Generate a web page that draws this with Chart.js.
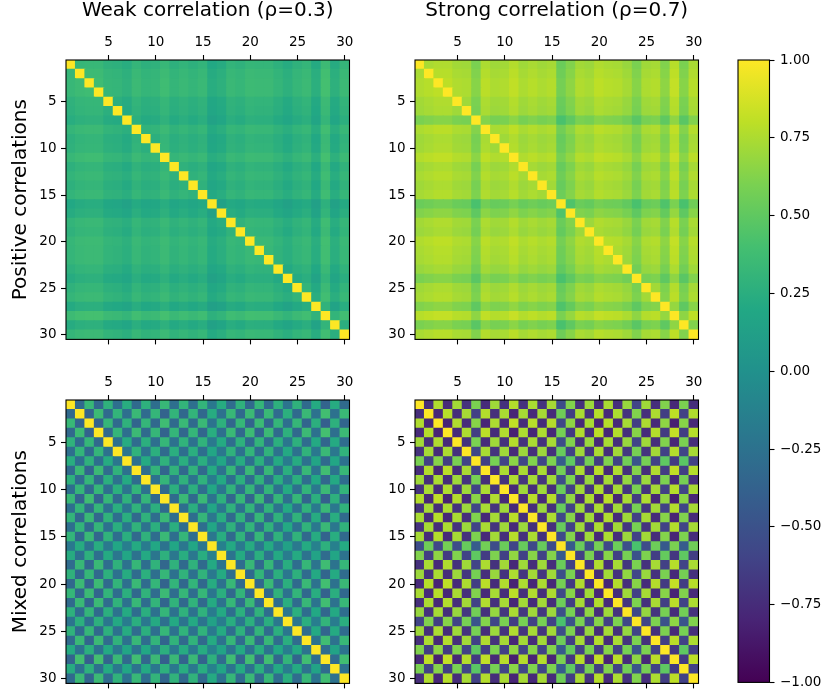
<!DOCTYPE html>
<html>
<head>
<meta charset="utf-8">
<script src="https://cdn.jsdelivr.net/npm/chart.js@4.4.1/dist/chart.umd.min.js"></script>
<style>
html, body { margin: 0; padding: 0; background: #fff; }
#wrap { position: relative; width: 824px; height: 696px; overflow: hidden; }
canvas { position: absolute; }
</style>
</head>
<body>
<div id="wrap">
  <canvas id="tl" width="370" height="352" style="left:0px;top:0px"></canvas>
  <canvas id="tr" width="340" height="352" style="left:370px;top:0px"></canvas>
  <canvas id="bl" width="370" height="344" style="left:0px;top:352px"></canvas>
  <canvas id="br" width="340" height="344" style="left:370px;top:352px"></canvas>
  <canvas id="cb" width="114" height="696" style="left:710px;top:0px"></canvas>
</div>
<script>
// ---------- data (correlation x 100, lower triangle: rows 2..30, columns 1..i-1) ----------
const nVars = 30;
const diagonalValue = 1;
const axisTicks = [5, 10, 15, 20, 25, 30];
const colorbarTicks = [-1, -0.75, -0.5, -0.25, 0, 0.25, 0.5, 0.75, 1];
const colorRange = [-1, 1];
const columnTitles = ['Weak correlation (ρ=0.3)', 'Strong correlation (ρ=0.7)'];
const rowTitles = ['Positive correlations', 'Mixed correlations'];

const weakPositive = [
[32],
[33,36],
[33,36,37],
[28,31,32,32],
[27,30,31,31,26],
[24,27,28,28,23,22],
[31,34,35,35,30,29,26],
[27,30,31,31,26,25,22,29],
[28,31,32,32,27,26,23,30,26],
[33,36,37,37,32,31,28,35,31,32],
[27,30,31,31,26,25,22,29,25,26,31],
[30,33,34,34,29,28,25,32,28,29,34,28],
[27,30,31,31,26,25,22,29,25,26,31,25,28],
[30,33,34,34,29,28,25,32,28,29,34,28,31,28],
[20,23,24,24,19,18,15,22,18,19,24,18,21,18,21],
[23,26,27,27,22,21,18,25,21,22,27,21,24,21,24,14],
[30,33,34,34,29,28,25,32,28,29,34,28,31,28,31,21,24],
[28,31,32,32,27,26,23,30,26,27,32,26,29,26,29,19,22,29],
[32,35,36,36,31,30,27,34,30,31,36,30,33,30,33,23,26,33,31],
[31,34,35,35,30,29,26,33,29,30,35,29,32,29,32,22,25,32,30,34],
[31,34,35,35,30,29,26,33,29,30,35,29,32,29,32,22,25,32,30,34,33],
[27,30,31,31,26,25,22,29,25,26,31,25,28,25,28,18,21,28,26,30,29,29],
[23,26,27,27,22,21,18,25,21,22,27,21,24,21,24,14,17,24,22,26,25,25,21],
[28,31,32,32,27,26,23,30,26,27,32,26,29,26,29,19,22,29,27,31,30,30,26,22],
[31,34,35,35,30,29,26,33,29,30,35,29,32,29,32,22,25,32,30,34,33,33,29,25,30],
[22,25,26,26,21,20,17,24,20,21,26,20,23,20,23,13,16,23,21,25,24,24,20,16,21,24],
[36,39,40,40,35,34,31,38,34,35,40,34,37,34,37,27,30,37,35,39,38,38,34,30,35,38,29],
[23,26,27,27,22,21,18,25,21,22,27,21,24,21,24,14,17,24,22,26,25,25,21,17,22,25,16,30],
[31,34,35,35,30,29,26,33,29,30,35,29,32,29,32,22,25,32,30,34,33,33,29,25,30,33,24,38,25]
];

const strongPositive = [
[74],
[76,78],
[76,78,80],
[72,74,76,76],
[71,73,75,75,71],
[60,62,64,64,60,59],
[75,77,79,79,75,74,63],
[71,73,75,75,71,70,59,74],
[72,74,76,76,72,71,60,75,71],
[77,79,81,81,77,76,65,80,76,77],
[71,73,75,75,71,70,59,74,70,71,76],
[74,76,78,78,74,73,62,77,73,74,79,73],
[71,73,75,75,71,70,59,74,70,71,76,70,73],
[73,75,77,77,73,72,61,76,72,73,78,72,75,72],
[54,56,58,58,54,53,42,57,53,54,59,53,56,53,55],
[62,64,66,66,62,61,50,65,61,62,67,61,64,61,63,44],
[72,74,76,76,72,71,60,75,71,72,77,71,74,71,73,54,62],
[70,72,74,74,70,69,58,73,69,70,75,69,72,69,71,52,60,70],
[76,78,80,80,76,75,64,79,75,76,81,75,78,75,77,58,66,76,74],
[74,76,78,78,74,73,62,77,73,74,79,73,76,73,75,56,64,74,72,78],
[73,75,77,77,73,72,61,76,72,73,78,72,75,72,74,55,63,73,71,77,75],
[69,71,73,73,69,68,57,72,68,69,74,68,71,68,70,51,59,69,67,73,71,70],
[60,62,64,64,60,59,48,63,59,60,65,59,62,59,61,42,50,60,58,64,62,61,57],
[71,73,75,75,71,70,59,74,70,71,76,70,73,70,72,53,61,71,69,75,73,72,68,59],
[73,75,77,77,73,72,61,76,72,73,78,72,75,72,74,55,63,73,71,77,75,74,70,61,72],
[62,64,66,66,62,61,50,65,61,62,67,61,64,61,63,44,52,62,60,66,64,63,59,50,61,63],
[78,80,82,82,78,77,66,81,77,78,83,77,80,77,79,60,68,78,76,82,80,79,75,66,77,79,68],
[60,62,64,64,60,59,48,63,59,60,65,59,62,59,61,42,50,60,58,64,62,61,57,48,59,61,50,66],
[74,76,78,78,74,73,62,77,73,74,79,73,76,73,75,56,64,74,72,78,76,75,71,62,73,75,64,80,62]
];

const weakMixed = [
[-32],
[33,-36],
[-33,36,-37],
[28,-31,32,-32],
[-27,30,-31,31,-26],
[24,-27,28,-28,23,-22],
[-31,34,-35,35,-30,29,-26],
[27,-30,31,-31,26,-25,22,-29],
[-28,31,-32,32,-27,26,-23,30,-26],
[33,-36,37,-37,32,-31,28,-35,31,-32],
[-27,30,-31,31,-26,25,-22,29,-25,26,-31],
[30,-33,34,-34,29,-28,25,-32,28,-29,34,-28],
[-27,30,-31,31,-26,25,-22,29,-25,26,-31,25,-28],
[30,-33,34,-34,29,-28,25,-32,28,-29,34,-28,31,-28],
[-20,23,-24,24,-19,18,-15,22,-18,19,-24,18,-21,18,-21],
[23,-26,27,-27,22,-21,18,-25,21,-22,27,-21,24,-21,24,-14],
[-30,33,-34,34,-29,28,-25,32,-28,29,-34,28,-31,28,-31,21,-24],
[28,-31,32,-32,27,-26,23,-30,26,-27,32,-26,29,-26,29,-19,22,-29],
[-32,35,-36,36,-31,30,-27,34,-30,31,-36,30,-33,30,-33,23,-26,33,-31],
[31,-34,35,-35,30,-29,26,-33,29,-30,35,-29,32,-29,32,-22,25,-32,30,-34],
[-31,34,-35,35,-30,29,-26,33,-29,30,-35,29,-32,29,-32,22,-25,32,-30,34,-33],
[27,-30,31,-31,26,-25,22,-29,25,-26,31,-25,28,-25,28,-18,21,-28,26,-30,29,-29],
[-23,26,-27,27,-22,21,-18,25,-21,22,-27,21,-24,21,-24,14,-17,24,-22,26,-25,25,-21],
[28,-31,32,-32,27,-26,23,-30,26,-27,32,-26,29,-26,29,-19,22,-29,27,-31,30,-30,26,-22],
[-31,34,-35,35,-30,29,-26,33,-29,30,-35,29,-32,29,-32,22,-25,32,-30,34,-33,33,-29,25,-30],
[22,-25,26,-26,21,-20,17,-24,20,-21,26,-20,23,-20,23,-13,16,-23,21,-25,24,-24,20,-16,21,-24],
[-36,39,-40,40,-35,34,-31,38,-34,35,-40,34,-37,34,-37,27,-30,37,-35,39,-38,38,-34,30,-35,38,-29],
[23,-26,27,-27,22,-21,18,-25,21,-22,27,-21,24,-21,24,-14,17,-24,22,-26,25,-25,21,-17,22,-25,16,-30],
[-31,34,-35,35,-30,29,-26,33,-29,30,-35,29,-32,29,-32,22,-25,32,-30,34,-33,33,-29,25,-30,33,-24,38,-25]
];

const strongMixed = [
[-74],
[76,-78],
[-76,78,-80],
[72,-74,76,-76],
[-71,73,-75,75,-71],
[60,-62,64,-64,60,-59],
[-75,77,-79,79,-75,74,-63],
[71,-73,75,-75,71,-70,59,-74],
[-72,74,-76,76,-72,71,-60,75,-71],
[77,-79,81,-81,77,-76,65,-80,76,-77],
[-71,73,-75,75,-71,70,-59,74,-70,71,-76],
[74,-76,78,-78,74,-73,62,-77,73,-74,79,-73],
[-71,73,-75,75,-71,70,-59,74,-70,71,-76,70,-73],
[73,-75,77,-77,73,-72,61,-76,72,-73,78,-72,75,-72],
[-54,56,-58,58,-54,53,-42,57,-53,54,-59,53,-56,53,-55],
[62,-64,66,-66,62,-61,50,-65,61,-62,67,-61,64,-61,63,-44],
[-72,74,-76,76,-72,71,-60,75,-71,72,-77,71,-74,71,-73,54,-62],
[70,-72,74,-74,70,-69,58,-73,69,-70,75,-69,72,-69,71,-52,60,-70],
[-76,78,-80,80,-76,75,-64,79,-75,76,-81,75,-78,75,-77,58,-66,76,-74],
[74,-76,78,-78,74,-73,62,-77,73,-74,79,-73,76,-73,75,-56,64,-74,72,-78],
[-73,75,-77,77,-73,72,-61,76,-72,73,-78,72,-75,72,-74,55,-63,73,-71,77,-75],
[69,-71,73,-73,69,-68,57,-72,68,-69,74,-68,71,-68,70,-51,59,-69,67,-73,71,-70],
[-60,62,-64,64,-60,59,-48,63,-59,60,-65,59,-62,59,-61,42,-50,60,-58,64,-62,61,-57],
[71,-73,75,-75,71,-70,59,-74,70,-71,76,-70,73,-70,72,-53,61,-71,69,-75,73,-72,68,-59],
[-73,75,-77,77,-73,72,-61,76,-72,73,-78,72,-75,72,-74,55,-63,73,-71,77,-75,74,-70,61,-72],
[62,-64,66,-66,62,-61,50,-65,61,-62,67,-61,64,-61,63,-44,52,-62,60,-66,64,-63,59,-50,61,-63],
[-78,80,-82,82,-78,77,-66,81,-77,78,-83,77,-80,77,-79,60,-68,78,-76,82,-80,79,-75,66,-77,79,-68],
[60,-62,64,-64,60,-59,48,-63,59,-60,65,-59,62,-59,61,-42,50,-60,58,-64,62,-61,57,-48,59,-61,50,-66],
[-74,76,-78,78,-74,73,-62,77,-73,74,-79,73,-76,73,-75,56,-64,74,-72,78,-76,75,-71,62,-73,75,-64,80,-62]
];

// ---------- colormap (viridis) ----------
const VIRIDIS = ['#440154','#482475','#414487','#355f8d','#2a788e','#21918c','#22a884','#44bf70','#7ad151','#bddf26','#fde725'];
const VIR_RGB = VIRIDIS.map(h => [1,3,5].map(k => parseInt(h.substr(k,2),16)));
function viridis(t) {
  t = Math.max(0, Math.min(1, t));
  const p = t * (VIR_RGB.length - 1);
  const i = Math.min(VIR_RGB.length - 2, Math.floor(p));
  const f = p - i;
  const a = VIR_RGB[i], b = VIR_RGB[i+1];
  return 'rgb(' + a.map((c, k) => Math.round(c + (b[k]-c)*f)).join(',') + ')';
}
function colorFor(v) { return viridis((v - colorRange[0]) / (colorRange[1] - colorRange[0])); }

// ---------- helpers ----------
function fullMatrix(lower) {
  const m = [];
  for (let i = 0; i < nVars; i++) {
    const row = [];
    for (let j = 0; j < nVars; j++) {
      if (i === j) row.push(diagonalValue);
      else if (i > j) row.push(lower[i-1][j] / 100);
      else row.push(lower[j-1][i] / 100);
    }
    m.push(row);
  }
  return m;
}
function cells(matrix) {
  const out = [];
  matrix.forEach((row, i) => row.forEach((v, j) => out.push({ x: j + 1, y: [i + 0.5, i + 1.5], v })));
  return out;
}

Chart.defaults.font.family = 'DejaVu Sans';
const tickFont = { family: 'DejaVu Sans', size: 13.5 };
const titleFont = { family: 'DejaVu Sans', size: 20, lineHeight: 1 };
const tickGrid = { display: true, offset: false, drawOnChartArea: false, drawTicks: true,
                   tickLength: 5, tickWidth: 1.1, tickColor: '#000', color: '#000' };

const framePlugin = {
  id: 'frame',
  afterDatasetsDraw(chart) {
    const { ctx, chartArea: a } = chart;
    ctx.save();
    ctx.strokeStyle = '#000';
    ctx.lineWidth = 1.1;
    ctx.strokeRect(a.left, a.top, a.right - a.left, a.bottom - a.top);
    ctx.restore();
  }
};

function setTicks(values) { return s => { s.ticks = values.map(v => ({ value: v })); }; }

function heatmap(id, lower, colTitle, rowTitle, dims) {
  new Chart(document.getElementById(id), {
    type: 'bar',
    data: {
      datasets: [{
        data: cells(fullMatrix(lower)),
        xAxisID: 'x', yAxisID: 'y',
        backgroundColor: c => (c.raw ? colorFor(c.raw.v) : '#000'),
        borderWidth: 0,
        inflateAmount: 0.5,
        categoryPercentage: 1,
        barPercentage: 1
      }]
    },
    options: {
      responsive: false, animation: false, events: [],
      layout: { padding: { left: 0, right: dims.padRight, top: 0, bottom: 0 } },
      plugins: { legend: { display: false }, tooltip: { enabled: false } },
      scales: {
        x: {
          type: 'linear', axis: 'x', position: 'top', min: 0.5, max: 30.5, offset: false,
          afterBuildTicks: setTicks(axisTicks),
          afterFit: s => { s.height = dims.top; },
          grid: tickGrid, border: { display: false },
          ticks: { color: '#000', font: tickFont, padding: 4, maxRotation: 0, autoSkip: false, callback: v => String(v) },
          title: colTitle ? { display: true, text: colTitle, color: '#000', font: titleFont, padding: { top: 0.5, bottom: 0 } } : { display: false }
        },
        x2: {
          type: 'linear', axis: 'x', position: 'bottom', min: 0.5, max: 30.5, offset: false,
          afterBuildTicks: setTicks(axisTicks),
          afterFit: s => { s.height = dims.bottom; },
          grid: tickGrid, border: { display: false },
          ticks: { display: false }
        },
        y: {
          type: 'linear', axis: 'y', position: 'left', reverse: true, min: 0.5, max: 30.5, offset: false,
          afterBuildTicks: setTicks(axisTicks),
          afterFit: s => { s.width = dims.left; },
          grid: tickGrid, border: { display: false },
          ticks: { color: '#000', font: tickFont, padding: 4.5, autoSkip: false, callback: v => String(v) },
          title: rowTitle ? { display: true, text: rowTitle, color: '#000', font: titleFont, padding: { top: 10.5, bottom: 0 } } : { display: false }
        }
      }
    },
    plugins: [framePlugin]
  });
}

heatmap('tl', weakPositive,   columnTitles[0], rowTitles[0], { left: 66, top: 60, bottom: 8.5,  padRight: 20.5 });
heatmap('tr', strongPositive, columnTitles[1], null,         { left: 45, top: 60, bottom: 8.5,  padRight: 11.5 });
heatmap('bl', weakMixed,      null,            rowTitles[1], { left: 66, top: 48, bottom: 12.5, padRight: 20.5 });
heatmap('br', strongMixed,    null,            null,         { left: 45, top: 48, bottom: 12.5, padRight: 11.5 });

// ---------- colorbar ----------
new Chart(document.getElementById('cb'), {
  type: 'bar',
  data: {
    labels: ['colorbar'],
    datasets: [{
      data: [[colorRange[0], colorRange[1]]],
      backgroundColor: c => {
        const a = c.chart.chartArea;
        if (!a) return VIRIDIS[5];
        const g = c.chart.ctx.createLinearGradient(0, a.bottom, 0, a.top);
        VIRIDIS.forEach((h, i) => g.addColorStop(i / (VIRIDIS.length - 1), h));
        return g;
      },
      borderWidth: 0, inflateAmount: 0, categoryPercentage: 1, barPercentage: 1
    }]
  },
  options: {
    responsive: false, animation: false, events: [],
    layout: { padding: { left: 28, right: 0, top: 60, bottom: 12.5 } },
    plugins: { legend: { display: false }, tooltip: { enabled: false } },
    scales: {
      x: { display: false },
      y: {
        type: 'linear', position: 'right', min: colorRange[0], max: colorRange[1],
        afterBuildTicks: setTicks(colorbarTicks),
        afterFit: s => { s.width = 54.5; },
        grid: { display: true, drawOnChartArea: false, drawTicks: true, tickLength: 5, tickWidth: 1.1, tickColor: '#000', color: '#000' },
        border: { display: false },
        ticks: { color: '#000', font: tickFont, padding: 5.5, autoSkip: false,
                 callback: v => v.toFixed(2).replace('-', '\u2212') }
      }
    }
  },
  plugins: [framePlugin]
});
</script>
</body>
</html>
